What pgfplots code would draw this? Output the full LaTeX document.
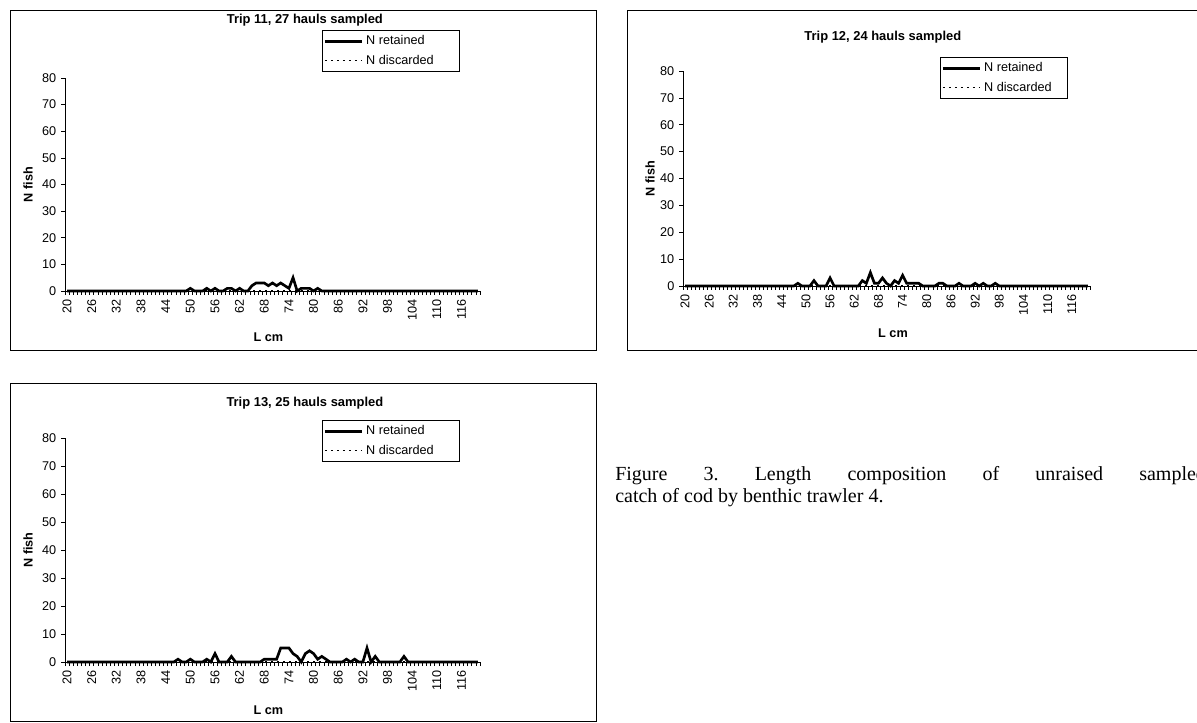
\documentclass[border=0pt]{standalone}
\usepackage{fontspec}
\setmainfont{Liberation Sans}
\newfontfamily\timesfont{Liberation Serif}
\usepackage{pgfplots}
\pgfplotsset{compat=1.18}
\pgfplotsset{
  tripaxis/.style={
    scale only axis,
    axis x line*=bottom, axis y line*=left,
    axis line style={black, line width=0.6pt},
    xmin=19.5, xmax=120.5, ymin=0, ymax=80,
    ytick={0,10,...,80},
    xtick={20,26,...,116},
    minor xtick={19.5,20.5,...,120.5},
    tick align=outside,
    major tick length=3pt, minor tick length=3pt,
    major x tick style={draw=none},
    every tick/.style={black, line width=0.5pt},
    /pgf/number format/assume math mode=true,
    ticklabel style={font=\fontsize{9.5}{11}\selectfont},
    xticklabel style={rotate=90, anchor=east},
    clip=false,
    every axis title/.style={font=\bfseries\fontsize{9.7}{12}\selectfont, anchor=center},
    xlabel style={font=\bfseries\fontsize{9.5}{11}\selectfont, anchor=center},
    ylabel style={font=\bfseries\fontsize{9.5}{11}\selectfont, anchor=center},
    xlabel={L cm}, ylabel={N fish},
    legend cell align=left,
    legend style={anchor=north west, draw=black, line width=0.5pt,
      font=\fontsize{9.5}{11}\selectfont, inner xsep=1pt, inner ysep=2pt,
      row sep=2pt},
    legend image code/.code={\draw[#1] (0pt,0pt) -- (28pt,0pt);},
  },
  retained/.style={black, line width=2pt, mark=none, line join=miter},
  discarded/.style={black, line width=1.2pt, mark=none, dash pattern=on 1.8pt off 2.7pt},
}
\begin{document}
\begin{tikzpicture}[x=0.75pt, y=0.75pt]
\path[use as bounding box] (0,0) rectangle (1197,722);
\clip (0,0) rectangle (1197,722);
% frames
\draw[black, line width=0.6pt] (10,712) rectangle (596,372);
\draw[black, line width=0.6pt] (627,712) rectangle (1210,372);
\draw[black, line width=0.6pt] (10,339) rectangle (596,1);

% Trip 11
\begin{axis}[tripaxis, at={(48.75pt,323.25pt)}, anchor=south west,
  width=311.25pt, height=159.75pt,
  title={Trip 11, 27 hauls sampled},
  title style={at={(axis description cs:0.578,1.272)}},
  xlabel style={at={(axis description cs:0.49,-0.216)}},
  ylabel style={at={(axis description cs:-0.089,0.5)}},
  legend style={at={(axis description cs:0.619,1.225)}}]
\addplot[retained] coordinates {
(20,0)(21,0)(22,0)(23,0)(24,0)(25,0)(26,0)(27,0)(28,0)(29,0)
(30,0)(31,0)(32,0)(33,0)(34,0)(35,0)(36,0)(37,0)(38,0)(39,0)
(40,0)(41,0)(42,0)(43,0)(44,0)(45,0)(46,0)(47,0)(48,0)(49,0)
(50,1)(51,0)(52,0)(53,0)(54,1)(55,0)(56,1)(57,0)(58,0)(59,1)
(60,1)(61,0)(62,1)(63,0)(64,0)(65,2)(66,3)(67,3)(68,3)(69,2)
(70,3)(71,2)(72,3)(73,2)(74,1)(75,5)(76,0)(77,1)(78,1)(79,1)
(80,0)(81,1)(82,0)(83,0)(84,0)(85,0)(86,0)(87,0)(88,0)(89,0)
(90,0)(91,0)(92,0)(93,0)(94,0)(95,0)(96,0)(97,0)(98,0)(99,0)
(100,0)(101,0)(102,0)(103,0)(104,0)(105,0)(106,0)(107,0)(108,0)(109,0)
(110,0)(111,0)(112,0)(113,0)(114,0)(115,0)(116,0)(117,0)(118,0)(119,0)
(120,0)};
\addlegendentry{N retained}
\addplot[discarded] coordinates {(20,0)(120,0)};
\addlegendentry{N discarded\rule{16pt}{0pt}}
\end{axis}

% Trip 12
\begin{axis}[tripaxis, at={(512.25pt,327pt)}, anchor=south west,
  width=305.25pt, height=161.25pt,
  title={Trip 12, 24 hauls sampled},
  title style={at={(axis description cs:0.491,1.157)}},
  xlabel style={at={(axis description cs:0.516,-0.22)}},
  ylabel style={at={(axis description cs:-0.081,0.5)}},
  legend style={at={(axis description cs:0.631,1.065)}}]
\addplot[retained] coordinates {
(20,0)(21,0)(22,0)(23,0)(24,0)(25,0)(26,0)(27,0)(28,0)(29,0)
(30,0)(31,0)(32,0)(33,0)(34,0)(35,0)(36,0)(37,0)(38,0)(39,0)
(40,0)(41,0)(42,0)(43,0)(44,0)(45,0)(46,0)(47,0)(48,1)(49,0)
(50,0)(51,0)(52,2)(53,0)(54,0)(55,0)(56,3)(57,0)(58,0)(59,0)
(60,0)(61,0)(62,0)(63,0)(64,2)(65,1)(66,5)(67,1)(68,1)(69,3)
(70,1)(71,0)(72,2)(73,1)(74,4)(75,1)(76,1)(77,1)(78,1)(79,0)
(80,0)(81,0)(82,0)(83,1)(84,1)(85,0)(86,0)(87,0)(88,1)(89,0)
(90,0)(91,0)(92,1)(93,0)(94,1)(95,0)(96,0)(97,1)(98,0)(99,0)
(100,0)(101,0)(102,0)(103,0)(104,0)(105,0)(106,0)(107,0)(108,0)(109,0)
(110,0)(111,0)(112,0)(113,0)(114,0)(115,0)(116,0)(117,0)(118,0)(119,0)
(120,0)};
\addlegendentry{N retained}
\addplot[discarded] coordinates {(20,0)(120,0)};
\addlegendentry{N discarded\rule{9pt}{0pt}}
\end{axis}

% Trip 13
\begin{axis}[tripaxis, at={(48.75pt,45pt)}, anchor=south west,
  width=311.25pt, height=168pt,
  title={Trip 13, 25 hauls sampled},
  title style={at={(axis description cs:0.578,1.156)}},
  xlabel style={at={(axis description cs:0.49,-0.214)}},
  ylabel style={at={(axis description cs:-0.089,0.5)}},
  legend style={at={(axis description cs:0.619,1.08)}}]
\addplot[retained] coordinates {
(20,0)(21,0)(22,0)(23,0)(24,0)(25,0)(26,0)(27,0)(28,0)(29,0)
(30,0)(31,0)(32,0)(33,0)(34,0)(35,0)(36,0)(37,0)(38,0)(39,0)
(40,0)(41,0)(42,0)(43,0)(44,0)(45,0)(46,0)(47,1)(48,0)(49,0)
(50,1)(51,0)(52,0)(53,0)(54,1)(55,0)(56,3)(57,0)(58,0)(59,0)
(60,2)(61,0)(62,0)(63,0)(64,0)(65,0)(66,0)(67,0)(68,1)(69,1)
(70,1)(71,1)(72,5)(73,5)(74,5)(75,3)(76,2)(77,0)(78,3)(79,4)
(80,3)(81,1)(82,2)(83,1)(84,0)(85,0)(86,0)(87,0)(88,1)(89,0)
(90,1)(91,0)(92,0)(93,5)(94,0)(95,2)(96,0)(97,0)(98,0)(99,0)
(100,0)(101,0)(102,2)(103,0)(104,0)(105,0)(106,0)(107,0)(108,0)(109,0)
(110,0)(111,0)(112,0)(113,0)(114,0)(115,0)(116,0)(117,0)(118,0)(119,0)
(120,0)};
\addlegendentry{N retained}
\addplot[discarded] coordinates {(20,0)(120,0)};
\addlegendentry{N discarded\rule{16pt}{0pt}}
\end{axis}

% caption
\node[anchor=base west, inner sep=0pt] at (615,241) {\timesfont\fontsize{15}{18}\selectfont
  \hbox to 443pt{Figure\hfill 3.\hfill Length\hfill composition\hfill of\hfill unraised\hfill sampled}};
\node[anchor=base west, inner sep=0pt] at (615,219) {\timesfont\fontsize{15}{18}\selectfont
  catch of cod by benthic trawler 4.};
\end{tikzpicture}
\end{document}
